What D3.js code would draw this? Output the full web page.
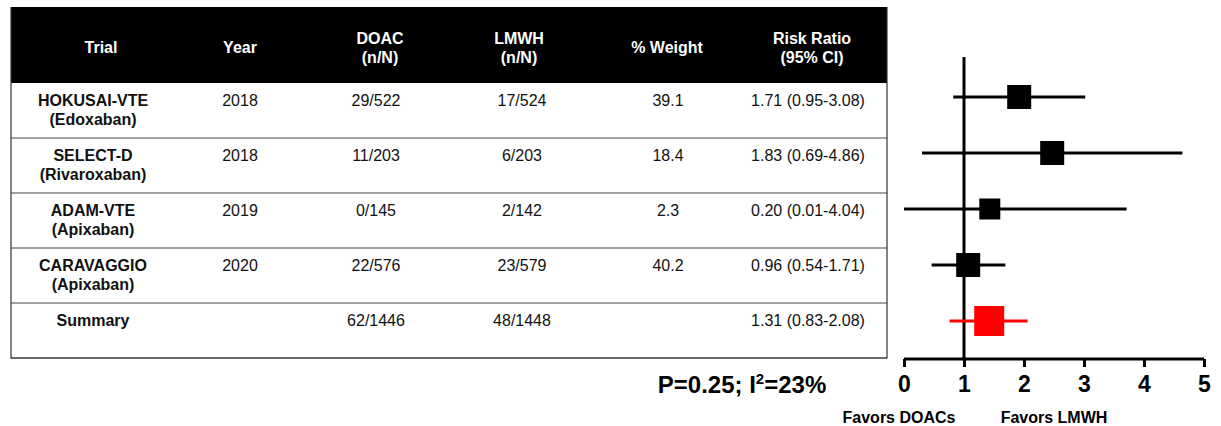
<!DOCTYPE html>
<html>
<head>
<meta charset="utf-8">
<script src="https://cdn.jsdelivr.net/npm/d3@7"></script>
<style>
  html, body { margin: 0; padding: 0; background: #fff; }
  svg { display: block; font-family: "Liberation Sans", Arial, sans-serif; }
</style>
</head>
<body>
<svg id="forest" width="1221" height="426"></svg>
<script>
"use strict";

// table contents
const headers = [["Trial"], ["Year"], ["DOAC", "(n/N)"], ["LMWH", "(n/N)"], ["% Weight"], ["Risk Ratio", "(95% CI)"]];
const trials = ["HOKUSAI-VTE", "SELECT-D", "ADAM-VTE", "CARAVAGGIO", "Summary"];
const drugs = ["(Edoxaban)", "(Rivaroxaban)", "(Apixaban)", "(Apixaban)", ""];
const years = ["2018", "2018", "2019", "2020", ""];
const doacEvents = ["29/522", "11/203", "0/145", "22/576", "62/1446"];
const lmwhEvents = ["17/524", "6/203", "2/142", "23/579", "48/1448"];
const weights = ["39.1", "18.4", "2.3", "40.2", ""];
const riskRatios = ["1.71 (0.95-3.08)", "1.83 (0.69-4.86)", "0.20 (0.01-4.04)", "0.96 (0.54-1.71)", "1.31 (0.83-2.08)"];

// plotted points, as drawn on the plot
const estimates = [1.92, 2.47, 1.43, 1.07, 1.42];
const lowerCI = [0.82, 0.30, 0.00, 0.46, 0.76];
const upperCI = [3.02, 4.64, 3.71, 1.69, 2.06];
const xTicks = [0, 1, 2, 3, 4, 5];
const heterogeneity = { p: "0.25", i2: "23%" };

// layout
const table = { left: 11, right: 887, top: 7, headBottom: 83, bottom: 358 };
const headCenters = [101, 240, 380, 519, 667, 812];
const bodyCenters = [93, 240, 376, 522, 668, 808];
const markerPx = [24, 24, 21, 24, 30];
const fontSize = 16;

const svg = d3.select("#forest");

// ---- table ----
const rowScale = d3.scaleBand(d3.range(trials.length), [table.headBottom, table.bottom]);

const tbl = svg.append("g").classed("table", true);

tbl.append("rect")
    .attr("x", table.left).attr("y", table.top)
    .attr("width", table.right - table.left).attr("height", table.headBottom - table.top)
    .attr("fill", "#000");

tbl.selectAll("g.head")
    .data(headers)
    .join("g")
    .classed("head", true)
    .attr("transform", (d, i) => `translate(${headCenters[i]},${table.top})`)
    .selectAll("text")
    .data(d => d.map((t, j) => ({ t, y: d.length === 1 ? 46 : 37 + j * 19 })))
    .join("text")
    .attr("y", d => d.y)
    .attr("text-anchor", "middle")
    .attr("fill", "#fff")
    .attr("font-weight", "bold")
    .attr("font-size", fontSize)
    .text(d => d.t);

const rows = tbl.selectAll("g.row")
    .data(trials.map((t, i) => ({
        i,
        cells: [[t, drugs[i]], [years[i]], [doacEvents[i]], [lmwhEvents[i]], [weights[i]], [riskRatios[i]]]
    })))
    .join("g")
    .classed("row", true)
    .attr("transform", d => `translate(0,${rowScale(d.i)})`);

rows.append("line")
    .attr("x1", table.left).attr("x2", table.right)
    .attr("y1", rowScale.bandwidth()).attr("y2", rowScale.bandwidth())
    .attr("stroke", "#444").attr("stroke-width", 1);

rows.selectAll("text")
    .data(d => d.cells.flatMap((lines, c) => lines.map((t, j) => ({ t, c, j }))))
    .join("text")
    .attr("x", d => bodyCenters[d.c])
    .attr("y", d => 23 + d.j * 18.5)
    .attr("text-anchor", "middle")
    .attr("font-size", fontSize)
    .attr("font-weight", d => d.c === 0 ? "bold" : "normal")
    .attr("fill", "#111")
    .text(d => d.t);

// outer frame of the body
tbl.append("path")
    .attr("d", `M${table.left},${table.top}V${table.bottom}H${table.right}V${table.top}`)
    .attr("fill", "none").attr("stroke", "#333").attr("stroke-width", 1.2);

svg.append("text")
    .attr("x", 742).attr("y", 393)
    .attr("text-anchor", "middle")
    .attr("font-size", 24).attr("font-weight", "bold")
    .call(t => t.append("tspan").text(`P=${heterogeneity.p}; I`))
    .call(t => t.append("tspan").attr("font-size", 15).attr("dy", -9).text("2"))
    .call(t => t.append("tspan").attr("dy", 9).text(`=${heterogeneity.i2}`));

// ---- forest plot ----
const x = d3.scaleLinear([0, 5], [904, 1204]);
const y = d3.scalePoint(d3.range(trials.length), [97, 321]);
const axisY = 359;

const plot = svg.append("g").classed("plot", true);

plot.append("line")
    .attr("x1", x(1)).attr("x2", x(1))
    .attr("y1", 57).attr("y2", axisY)
    .attr("stroke", "#000").attr("stroke-width", 3);

const axis = plot.append("g")
    .attr("transform", `translate(0,${axisY})`)
    .call(d3.axisBottom(x).tickValues(xTicks).tickFormat(d3.format("d")).tickSize(8).tickSizeOuter(0).tickPadding(9));
axis.select(".domain").attr("stroke-width", 3).attr("d", `M${x(0)},0H${x(5)}`);
axis.selectAll(".tick line").attr("stroke-width", 3);
axis.selectAll(".tick text")
    .attr("font-family", "Liberation Sans, Arial, sans-serif")
    .attr("font-size", 23).attr("font-weight", "bold").attr("fill", "#000");

const marks = plot.selectAll("g.study")
    .data(d3.range(trials.length))
    .join("g")
    .classed("study", true)
    .attr("transform", i => `translate(0,${y(i)})`);

marks.append("line")
    .attr("x1", i => x(lowerCI[i])).attr("x2", i => x(upperCI[i]))
    .attr("stroke", i => i === trials.length - 1 ? "#ff0000" : "#000")
    .attr("stroke-width", 3);

marks.append("rect")
    .attr("x", i => x(estimates[i]) - markerPx[i] / 2)
    .attr("y", i => -markerPx[i] / 2)
    .attr("width", i => markerPx[i]).attr("height", i => markerPx[i])
    .attr("fill", i => i === trials.length - 1 ? "#ff0000" : "#000");

plot.selectAll("text.favors")
    .data([["Favors DOACs", 899], ["Favors LMWH", 1054]])
    .join("text")
    .classed("favors", true)
    .attr("x", d => d[1]).attr("y", 423)
    .attr("text-anchor", "middle")
    .attr("font-size", 16).attr("font-weight", "bold")
    .text(d => d[0]);
</script>
</body>
</html>
